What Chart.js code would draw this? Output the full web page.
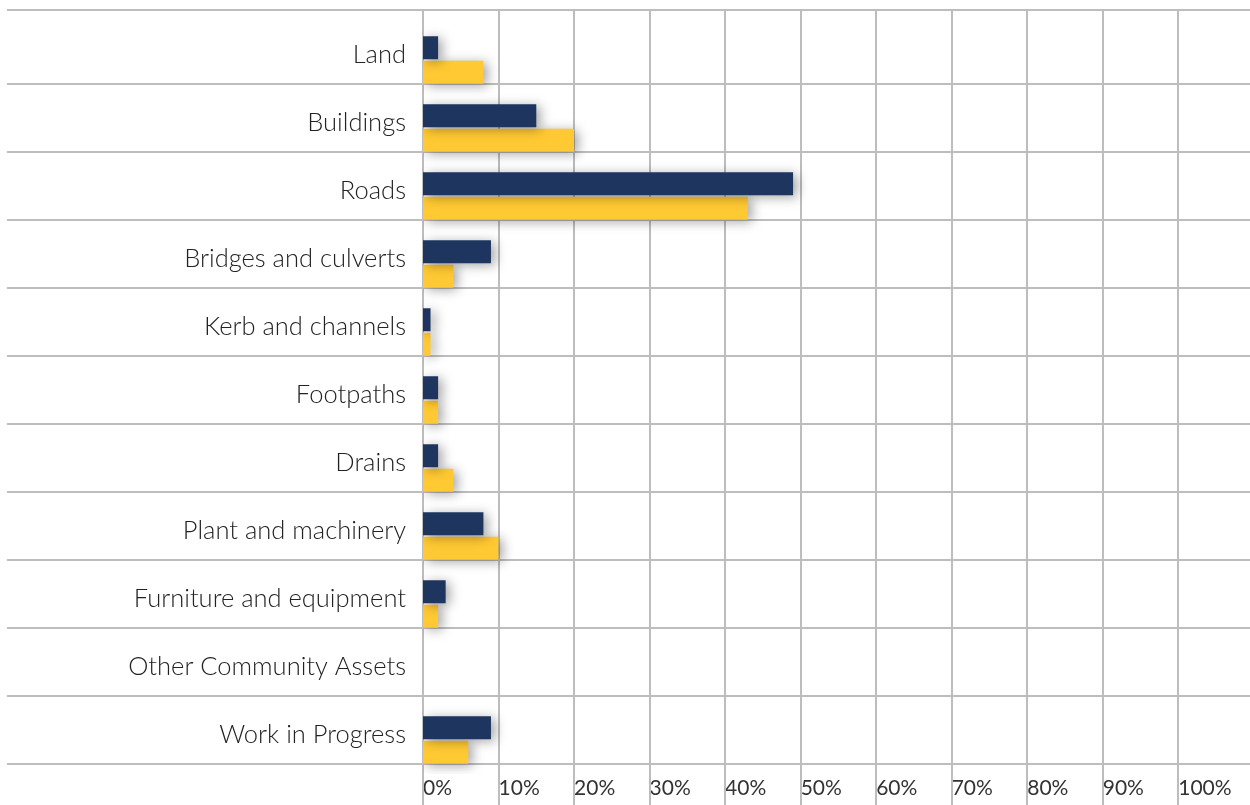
<!DOCTYPE html>
<html>
<head>
<meta charset="utf-8">
<script src="https://cdn.jsdelivr.net/npm/chart.js@4/dist/chart.umd.min.js"></script>
<style>
  html, body { margin: 0; padding: 0; background: #ffffff; }
  #wrap { width: 1250px; height: 805px; position: relative; }
</style>
</head>
<body>
<div id="wrap"><canvas id="c"></canvas></div>
<script>
const categories = [
  "Land", "Buildings", "Roads", "Bridges and culverts", "Kerb and channels",
  "Footpaths", "Drains", "Plant and machinery", "Furniture and equipment",
  "Other Community Assets", "Work in Progress"
];
const seriesNavy   = [2, 15, 49, 9, 1, 2, 2, 8, 3, 0, 9];
const seriesYellow = [8, 20, 43, 4, 1, 2, 4, 10, 2, 0, 6];
const tickValues = [0, 10, 20, 30, 40, 50, 60, 70, 80, 90, 100];

const GRID = '#bdbdbd';

const gridPlugin = {
  id: 'customGrid',
  beforeDatasetsDraw(chart) {
    const ctx = chart.ctx;
    const xs = chart.scales.x;
    const area = chart.chartArea;
    const topY = Math.round(area.top - 16);
    ctx.save();
    ctx.strokeStyle = GRID;
    ctx.lineWidth = 2;
    tickValues.forEach(v => {
      const x = Math.round(xs.getPixelForValue(v));
      ctx.beginPath();
      ctx.moveTo(x, topY);
      ctx.lineTo(x, chart.height);
      ctx.stroke();
    });
    ctx.beginPath();
    ctx.moveTo(7, topY);
    ctx.lineTo(area.right, topY);
    ctx.stroke();
    const meta = chart.getDatasetMeta(1);
    meta.data.forEach(bar => {
      const y = Math.round(bar.y + bar.height / 2 + 0.6);
      ctx.beginPath();
      ctx.moveTo(7, y);
      ctx.lineTo(area.right, y);
      ctx.stroke();
    });
    ctx.restore();
  },
  beforeDatasetDraw(chart) {
    const ctx = chart.ctx;
    ctx.save();
    ctx.shadowColor = 'rgba(0,0,0,0.36)';
    ctx.shadowBlur = 12;
    ctx.shadowOffsetX = 4;
    ctx.shadowOffsetY = 2;
  },
  afterDatasetDraw(chart) {
    chart.ctx.restore();
  }
};

new Chart(document.getElementById('c'), {
  type: 'bar',
  data: {
    labels: categories,
    datasets: [
      { label: 'Series 1', data: seriesNavy, backgroundColor: '#1e365f',
        categoryPercentage: 0.72, barPercentage: 0.94 },
      { label: 'Series 2', data: seriesYellow, backgroundColor: '#ffc933',
        categoryPercentage: 0.72, barPercentage: 0.94 }
    ]
  },
  options: {
    indexAxis: 'y',
    responsive: true,
    maintainAspectRatio: false,
    animation: false,
    layout: { padding: { top: 26, right: 0, bottom: 0, left: 0 } },
    plugins: { legend: { display: false }, tooltip: { enabled: false } },
    scales: {
      x: {
        min: 0,
        max: 109.5,
        grid: { display: false, drawTicks: false },
        border: { display: false },
        afterBuildTicks(s) { s.ticks = tickValues.map(v => ({ value: v })); },
        afterFit(s) { s.height = 31; s.paddingLeft = 0; s.paddingRight = 0; },
        ticks: {
          align: 'start',
          padding: 2,
          color: '#333333',
          font: { family: 'Lato', size: 21 },
          callback: v => v + '%'
        }
      },
      y: {
        grid: { display: false, drawTicks: false },
        border: { display: false },
        afterFit(s) { s.width = 423; s.paddingTop = 0; s.paddingBottom = 0; },
        ticks: {
          padding: 17,
          labelOffset: -5,
          color: '#222222',
          font: { family: 'Lato', size: 25.5, weight: 300 }
        }
      }
    }
  },
  plugins: [gridPlugin]
});
</script>
</body>
</html>
